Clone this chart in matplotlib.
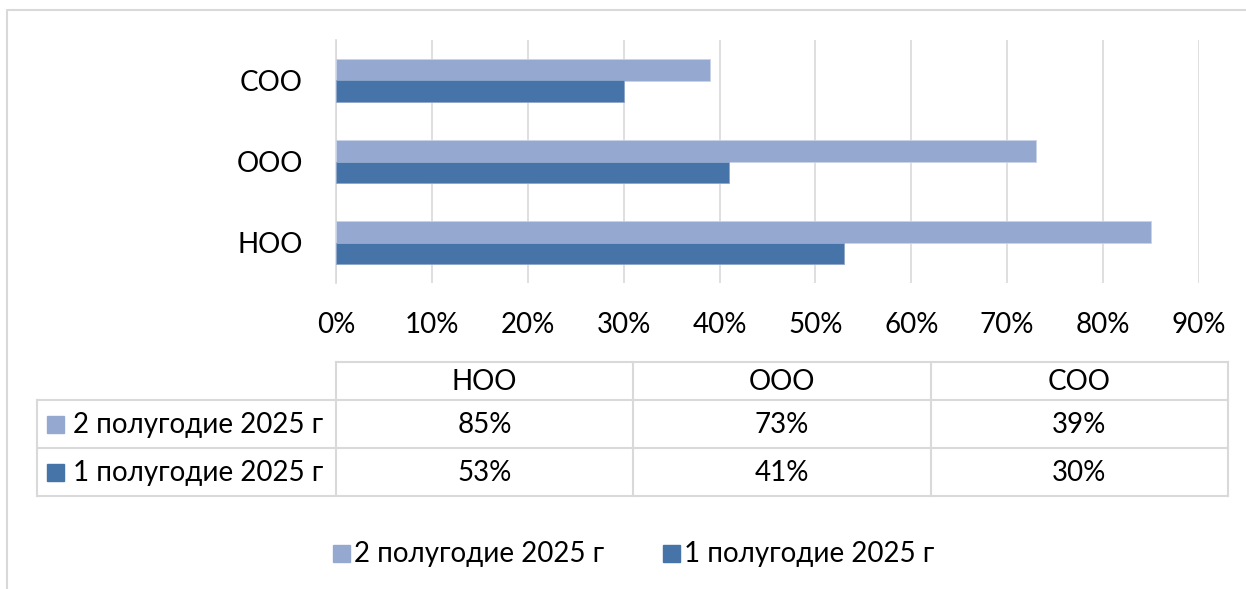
import matplotlib.pyplot as plt
from matplotlib.patches import Rectangle

plt.rcParams['font.family'] = ['Lato', 'DejaVu Sans']

categories = ['НОО', 'ООО', 'СОО']
series_names = ['2 полугодие 2025 г', '1 полугодие 2025 г']
half2 = [85, 73, 39]
half1 = [53, 41, 30]
colors = ['#95A9D0', '#4673A8']
xticks = [0, 10, 20, 30, 40, 50, 60, 70, 80, 90]

W, H = 1246, 589
fs = 20
fig = plt.figure(figsize=(W / 100, H / 100), dpi=100)

# main bar chart
ax = fig.add_axes([336 / W, 1 - 283 / H, (1199 - 336) / W, (283 - 40) / H])
h = 0.26
ypos = list(range(len(categories)))
ax.barh([y + h / 2 for y in ypos], half2, height=h, color=colors[0],
        edgecolor='#c9d3e8', linewidth=0.6, zorder=3)
ax.barh([y - h / 2 for y in ypos], half1, height=h, color=colors[1],
        edgecolor='#8ea6c9', linewidth=0.6, zorder=3)
ax.set_xlim(0, 90)
ax.set_ylim(-0.5, 2.5)
ax.set_xticks(xticks)
ax.set_xticklabels([f'{t}%' for t in xticks], fontsize=fs)
ax.set_yticks(ypos)
ax.set_yticklabels(categories, fontsize=fs)
ax.tick_params(length=0)
ax.tick_params(axis='x', pad=21)
ax.tick_params(axis='y', pad=24)
ax.grid(axis='x', color='#d9d9d9', linewidth=1.2, zorder=0)
for s in ['top', 'right', 'bottom']:
    ax.spines[s].set_visible(False)
ax.spines['left'].set_color('#d9d9d9')
ax.spines['left'].set_linewidth(1.2)

# overlay in pixel coordinates for the frame, data table and legend
ov = fig.add_axes([0, 0, 1, 1], zorder=-1)
ov.set_xlim(0, W)
ov.set_ylim(H, 0)
ov.axis('off')
lc = '#d9d9d9'
ov.plot([7, 7, W], [H, 10, 10], color=lc, lw=1.5)

col_x = [37, 336, 633, 931, 1228]
row_y = [362, 400, 448, 496]
# header row
ov.plot([336, 1228], [row_y[0], row_y[0]], color=lc, lw=1.5)
for y in row_y[1:]:
    ov.plot([col_x[0], col_x[-1]], [y, y], color=lc, lw=1.5)
ov.plot([col_x[0], col_x[0]], [row_y[1], row_y[3]], color=lc, lw=1.5)
for x in col_x[1:]:
    ov.plot([x, x], [row_y[0], row_y[3]], color=lc, lw=1.5)
for i, cat in enumerate(categories):
    cx = (col_x[i + 1] + col_x[i + 2]) / 2
    ov.text(cx, (row_y[0] + row_y[1]) / 2 + 1, cat, ha='center', va='center', fontsize=fs)
    ov.text(cx, (row_y[1] + row_y[2]) / 2 + 1, f'{half2[i]}%', ha='center', va='center', fontsize=fs)
    ov.text(cx, (row_y[2] + row_y[3]) / 2 + 1, f'{half1[i]}%', ha='center', va='center', fontsize=fs)
for j, name in enumerate(series_names):
    yc = (row_y[j + 1] + row_y[j + 2]) / 2
    ov.add_patch(Rectangle((47, yc - 8), 17, 17, color=colors[j]))
    ov.text(73, yc + 1, name, ha='left', va='center', fontsize=fs)

# legend
leg_x = [333, 663]
for j, name in enumerate(series_names):
    ov.add_patch(Rectangle((leg_x[j], 545), 17, 17, color=colors[j]))
    ov.text(leg_x[j] + 21, 554, name, ha='left', va='center', fontsize=fs)

fig.savefig('out.png', dpi=100, facecolor='white')
